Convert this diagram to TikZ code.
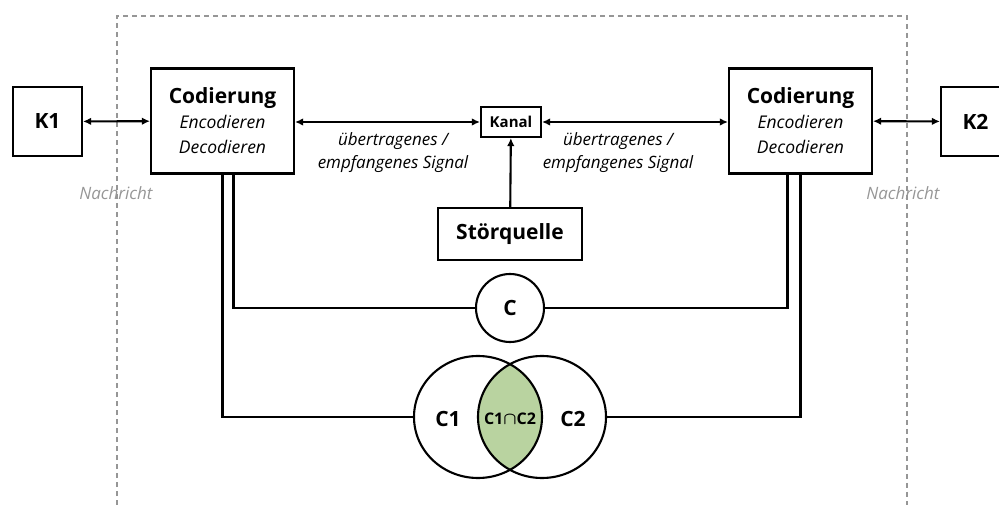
\documentclass[tikz,border=0pt]{standalone}
\usepackage{fontspec}
\setmainfont{Open Sans}
\usetikzlibrary{positioning,shapes.geometric,arrows.meta}
\definecolor{lensgreen}{RGB}{185,211,160}
\definecolor{framegray}{RGB}{150,150,150}
\newcommand{\bigb}{\fontsize{21}{25}\selectfont\upshape\bfseries}
\newcommand{\midi}{\fontsize{17}{23}\selectfont\itshape}
\begin{document}
\begin{tikzpicture}
	[x=1pt,y=-1pt,line width=2.1pt,>={Latex[length=8pt,width=7.5pt]},
	 block/.style={draw,line width=2.1pt,inner sep=0pt,align=center},
	 coder/.style={block,minimum width=143,minimum height=105,font=\fontsize{17.5}{25}\selectfont\itshape},
	 ring/.style={draw,ellipse,line width=2.1pt,inner sep=0pt,minimum width=128,minimum height=122},
	 signal/.style={align=center,font=\midi},
	 msg/.style={text=framegray,font=\fontsize{17}{20}\selectfont\itshape}]
	\useasboundingbox (0,0) rectangle (999,505);
	% frame round the coding part
	\draw[framegray,line width=1.8pt,dash pattern=on 5pt off 4pt] (117,505) -- (117,16) -- (907,16) -- (907,505);
	% blocks
	\node[block,minimum width=69,minimum height=69,font=\bigb,name=k1] at (47.5,121.5) {K1};
	\node[block,minimum width=69,minimum height=69,font=\bigb,name=k2] at (975.5,121.5) {K2};
	\node[coder,name=cod1] at (222.5,121) {{\bigb Codierung}\\Encodieren\\Decodieren};
	\node[coder,name=cod2] at (800.5,121) {{\bigb Codierung}\\Encodieren\\Decodieren};
	\node[block,minimum width=60,minimum height=30,font=\fontsize{15}{18}\selectfont\bfseries,name=kanal] at (511,122) {Kanal};
	\node[block,minimum width=144,minimum height=52,font=\bigb,name=stoer] at (510,234) {Störquelle};
	\node[draw,circle,line width=2.1pt,minimum size=68,font=\bigb,name=c] at (510,308) {C};
	% the two code sets and their common part
	\begin{scope}
		\clip (478,417) ellipse (64 and 61);
		\fill[lensgreen] (542,417) ellipse (64 and 61);
	\end{scope}
	\node[ring,name=c1] at (478,417) {};
	\node[ring,name=c2] at (542,417) {};
	\node[font=\bigb] at (448,419) {C1};
	\node[font=\bigb] at (573,419) {C2};
	\node[font=\fontsize{16}{18}\selectfont\bfseries] at (510,419) {C1{\boldmath$\cap$}C2};
	% labels
	\node[signal] at (393,153) {übertragenes /\\empfangenes Signal};
	\node[signal] at (618,153) {übertragenes /\\empfangenes Signal};
	\node[msg] at (116,193) {Nachricht};
	\node[msg] at (903,193) {Nachricht};
	% connectors
	\draw[<->] (k1) -- (cod1);
	\draw[<->] (cod2) -- (k2);
	\draw[<->] (cod1.east|-kanal) -- (kanal);
	\draw[<->] (kanal) -- (cod2.west|-kanal);
	\draw[->] (stoer) -- (kanal);
	\draw ([xshift=11pt]cod1.south) |- (c.west);
	\draw ([xshift=-13pt]cod2.south) |- (c.east);
	\draw (cod1.south) |- (c1.west);
	\draw (cod2.south) |- (c2.east);
\end{tikzpicture}
\end{document}
